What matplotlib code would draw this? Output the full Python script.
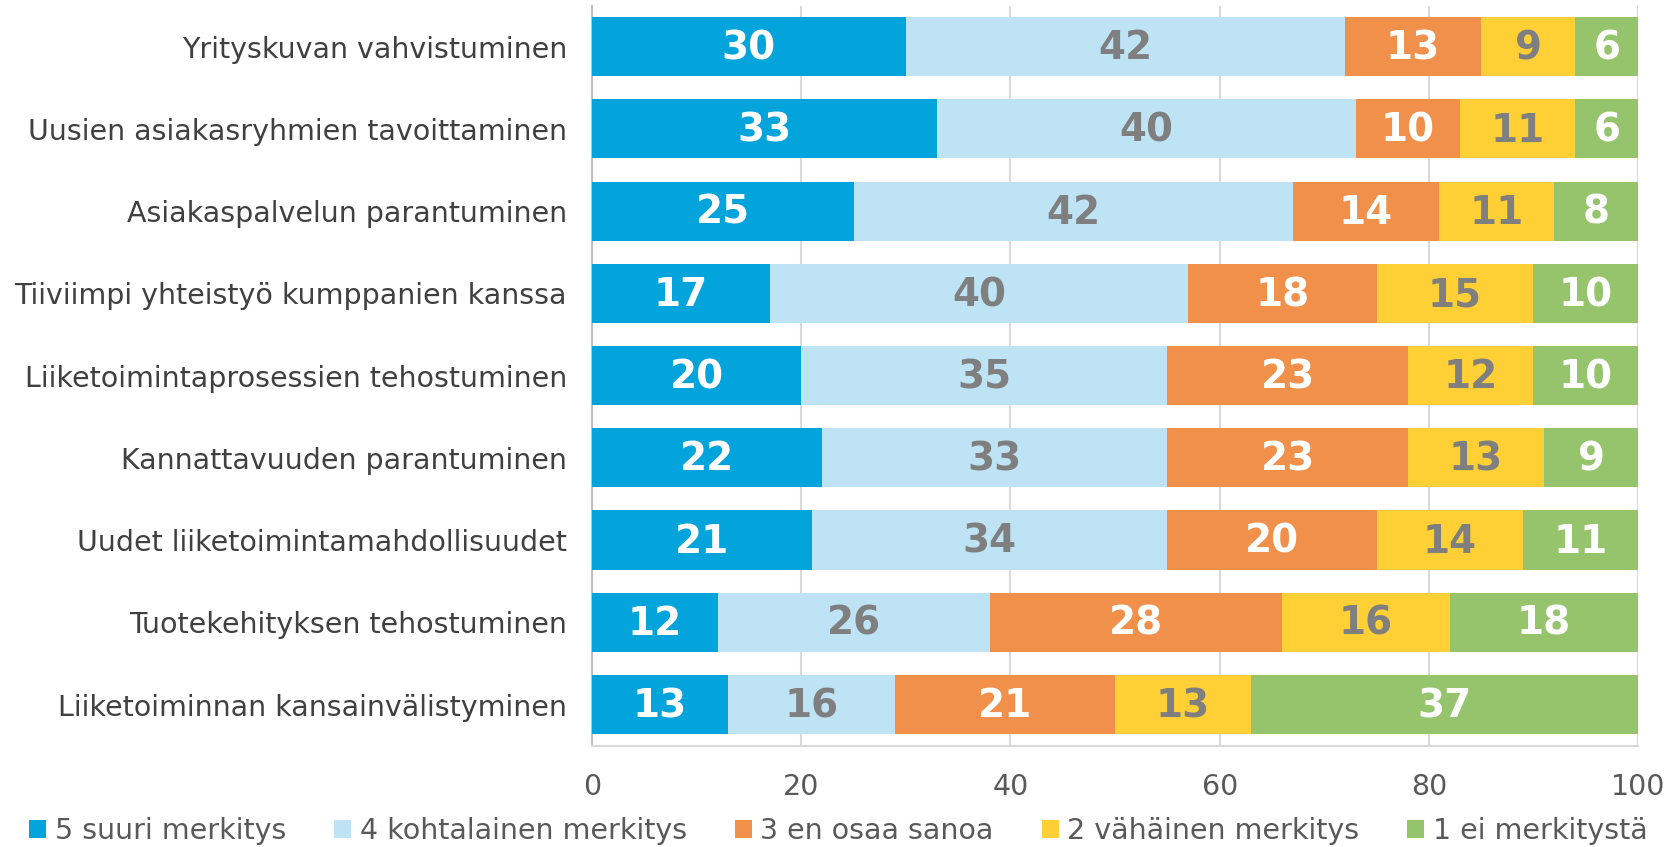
import matplotlib.pyplot as plt
import numpy as np

categories = ["Yrityskuvan vahvistuminen",
              "Uusien asiakasryhmien tavoittaminen",
              "Asiakaspalvelun parantuminen",
              "Tiiviimpi yhteistyö kumppanien kanssa",
              "Liiketoimintaprosessien tehostuminen",
              "Kannattavuuden parantuminen",
              "Uudet liiketoimintamahdollisuudet",
              "Tuotekehityksen tehostuminen",
              "Liiketoiminnan kansainvälistyminen"]
suuri = [30, 33, 25, 17, 20, 22, 21, 12, 13]
kohtalainen = [42, 40, 42, 40, 35, 33, 34, 26, 16]
en_osaa = [13, 10, 14, 18, 23, 23, 20, 28, 21]
vahainen = [9, 11, 11, 15, 12, 13, 14, 16, 13]
ei = [6, 6, 8, 10, 10, 9, 11, 18, 37]
series_names = ["5 suuri merkitys", "4 kohtalainen merkitys", "3 en osaa sanoa",
                "2 vähäinen merkitys", "1 ei merkitystä"]

colors = ["#02A4DB", "#BDE3F5", "#F0904A", "#FED035", "#95C46C"]
text_colors = ["white", "#7F7F7F", "white", "#7F7F7F", "white"]

plt.rcParams['font.family'] = ['DejaVu Sans']

fig = plt.figure(figsize=(16.77, 8.47), dpi=100)
ax = fig.add_axes([0.353, 0.1196, 0.9768 - 0.353, 0.9935 - 0.1196])

y = np.arange(len(categories))
left = np.zeros(len(categories))
for vals, name, c, tc in zip([suuri, kohtalainen, en_osaa, vahainen, ei],
                             series_names, colors, text_colors):
    vals = np.array(vals)
    ax.barh(y, vals, left=left, height=0.72, color=c, label=name, zorder=3)
    for yi, v, l in zip(y, vals, left):
        ax.text(l + v / 2, yi + 0.02, str(v), ha='center', va='center', color=tc,
                fontsize=28, fontweight='bold', zorder=4)
    left += vals

ax.set_xlim(0, 100)
ax.set_ylim(len(categories) - 0.5, -0.5)
ax.set_xticks([0, 20, 40, 60, 80, 100])
ax.set_yticks(y)
ax.set_yticklabels(categories, fontsize=20.5, color='#404040')
ax.tick_params(axis='x', labelsize=20.5, labelcolor='#595959', length=0, pad=20)
ax.tick_params(axis='y', length=0, pad=18)
ax.grid(axis='x', color='#D9D9D9', linewidth=1.5, zorder=0)
for s in ['top', 'right']:
    ax.spines[s].set_visible(False)
ax.spines['left'].set_color('#BFBFBF')
ax.spines['bottom'].set_color('#D9D9D9')
ax.spines['left'].set_linewidth(1.5)
ax.spines['bottom'].set_linewidth(1.5)

fig.legend(loc='lower center', bbox_to_anchor=(0.5, -0.028), ncol=5, frameon=False,
           fontsize=20.5, handlelength=0.6, handleheight=0.6, handletextpad=0.3,
           columnspacing=1.68, labelcolor='#595959')

fig.savefig('out.png', dpi=100)
